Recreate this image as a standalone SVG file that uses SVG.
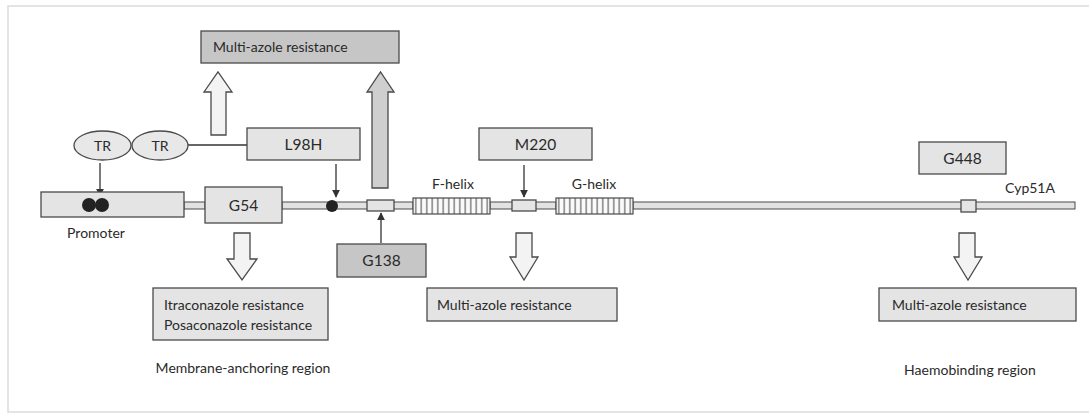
<svg xmlns="http://www.w3.org/2000/svg" width="1089" height="416" viewBox="0 0 1089 416">
<style>
text{font-family:Lato,"Open Sans","Liberation Sans",sans-serif;font-size:14px;fill:#2a2a2a}
.c{text-anchor:middle}
.big{font-size:15.5px}
.box{stroke:#4a4a4a;stroke-width:1.3}
.lt{fill:#e4e4e4}
.dk{fill:#c6c6c6}
.bar{fill:#e2e2e2;stroke:#4a4a4a;stroke-width:1}
.hol{fill:#f3f3f3;stroke:#4a4a4a;stroke-width:1.3}
.gra{fill:#cfcfcf;stroke:#4a4a4a;stroke-width:1.3}
.ln{stroke:#333;stroke-width:1.3;fill:none}
</style>
<defs>
<marker id="ah" viewBox="0 0 10 10" refX="9" refY="5" markerWidth="8" markerHeight="8" markerUnits="userSpaceOnUse" orient="auto"><path d="M0,0 L10,5 L0,10 z" fill="#333"/></marker>
<pattern id="stripes" x="413" y="0" width="5.5" height="20" patternUnits="userSpaceOnUse"><rect width="5.5" height="20" fill="#fafafa"/><line x1="2.75" y1="0" x2="2.75" y2="20" stroke="#444" stroke-width="1"/></pattern>
</defs>
<rect x="8" y="6" width="1090" height="406" fill="none" stroke="#dcdcdc" stroke-width="1.5"/>

<g id="backbone">
<rect class="bar" x="184" y="202" width="21" height="7"/>
<rect class="bar" x="282" y="202" width="131" height="7"/>
<rect class="bar" x="490" y="202" width="66" height="7"/>
<rect class="bar" x="633" y="202" width="442" height="7"/>
</g>

<g id="connectors">
<line class="ln" x1="188" y1="145" x2="247" y2="145"/>
<line class="ln" x1="100" y1="163" x2="100" y2="196" marker-end="url(#ah)"/>
<line class="ln" x1="336" y1="164" x2="336" y2="197" marker-end="url(#ah)"/>
<line class="ln" x1="381" y1="243" x2="381" y2="213" marker-end="url(#ah)"/>
<line class="ln" x1="524" y1="165" x2="524" y2="197" marker-end="url(#ah)"/>
<polygon class="hol" points="211,135 211,92 204,92 218,72 232,92 226,92 226,135"/>
<polygon class="gra" points="372,188 372,92 367,92 380.5,72 394,92 388,92 388,188"/>
<polygon class="hol" points="234,233 250,233 250,259 257,259 242,280 227,259 234,259"/>
<polygon class="hol" points="516,233 532,233 532,257 538,257 524,280 510,257 516,257"/>
<polygon class="hol" points="959,233 975,233 975,257 982,257 968,280 954,257 959,257"/>
</g>

<g id="top-resistance"><rect class="box dk" x="201" y="31" width="198" height="32"/><text x="213" y="52">Multi-azole resistance</text></g>
<g id="tr1"><ellipse cx="102.5" cy="145.5" rx="28.5" ry="14.5" fill="#e8e8e8" stroke="#4a4a4a" stroke-width="1.3"/><text class="c" x="102.5" y="150.5">TR</text></g>
<g id="tr2"><ellipse cx="160" cy="145.5" rx="28" ry="14.5" fill="#e8e8e8" stroke="#4a4a4a" stroke-width="1.3"/><text class="c" x="160" y="150.5">TR</text></g>
<g id="l98h"><rect class="box lt" x="247" y="128" width="113" height="32"/><text class="c big" x="303.5" y="150">L98H</text></g>
<g id="promoter"><rect class="box lt" x="41" y="192" width="143" height="25"/><circle cx="89" cy="205" r="7" fill="#222"/><circle cx="102" cy="205" r="7" fill="#222"/><text class="c" x="96" y="238">Promoter</text></g>
<g id="g54"><rect class="box lt" x="205" y="187" width="77" height="36"/><text class="c big" x="243.5" y="210.5">G54</text></g>
<g id="mut98"><circle cx="332" cy="206" r="6" fill="#222"/></g>
<g id="site138"><rect class="box lt" x="367" y="200" width="27" height="11"/></g>
<g id="g138"><rect class="box dk" x="337" y="244" width="89" height="33"/><text class="c big" x="381.5" y="266">G138</text></g>
<g id="fhelix"><rect x="413" y="198" width="77" height="16" fill="url(#stripes)" stroke="#4a4a4a" stroke-width="1.2"/><text class="c" x="453" y="189">F-helix</text></g>
<g id="site220"><rect class="box lt" x="512" y="200" width="24" height="11"/></g>
<g id="m220"><rect class="box lt" x="479" y="128" width="113" height="32"/><text class="c big" x="535.5" y="150">M220</text></g>
<g id="ghelix"><rect x="556" y="198" width="77" height="16" fill="url(#stripes)" stroke="#4a4a4a" stroke-width="1.2"/><text class="c" x="594" y="189">G-helix</text></g>
<g id="site448"><rect class="box lt" x="961" y="200" width="15" height="12"/></g>
<g id="g448"><rect class="box lt" x="919" y="142" width="87" height="32"/><text class="c big" x="962.5" y="164">G448</text></g>
<g id="cyp51a"><text class="c" x="1030" y="193">Cyp51A</text></g>
<g id="itra-posa"><rect class="box lt" x="153" y="288" width="175" height="52"/><text x="164" y="310">Itraconazole resistance</text><text x="164" y="330">Posaconazole resistance</text></g>
<g id="mid-resistance"><rect class="box lt" x="427" y="288" width="190" height="33"/><text x="437" y="309.5">Multi-azole resistance</text></g>
<g id="right-resistance"><rect class="box lt" x="879" y="288" width="197" height="33"/><text x="892" y="309.5">Multi-azole resistance</text></g>
<g id="membrane-label"><text class="c" x="243" y="373">Membrane-anchoring region</text></g>
<g id="haemo-label"><text class="c" x="970" y="375">Haemobinding region</text></g>
</svg>
